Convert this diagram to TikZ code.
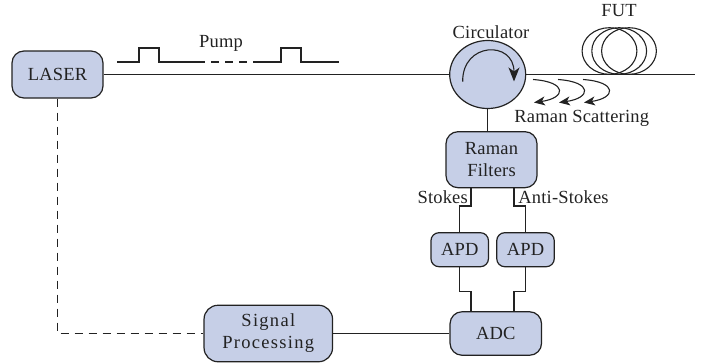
\documentclass[tikz,border=0pt]{standalone}
\usepackage{fontspec}
\setmainfont[LetterSpace=1]{Liberation Serif}
\newfontfamily\widefont[LetterSpace=7]{Liberation Serif}
\usetikzlibrary{shapes.geometric,arrows.meta}
\definecolor{boxfill}{HTML}{C6CFE7}
\definecolor{ink}{HTML}{222222}
\tikzset{
  x=1pt,y=-1pt,
  base/.style={draw=ink,line width=1.2pt,fill=boxfill,inner sep=0pt,align=center,text=ink,font=\fontsize{18.5}{22}\selectfont},
  bigbox/.style={base,rectangle,rounded corners=12pt},
  apdbox/.style={base,rectangle,rounded corners=8pt,minimum width=57.5pt,minimum height=34pt},
  lab/.style={text=ink,inner sep=0pt,font=\fontsize{18.5}{20}\selectfont},
  wire/.style={draw=ink,line width=1.2pt},
  thin wire/.style={draw=ink,line width=1.1pt},
  dash wire/.style={wire,dash pattern=on 8pt off 6pt},
  scatter/.style={draw=ink,line width=1.1pt,-{Stealth[length=11pt,width=9pt,inset=3pt]}},
}
\begin{document}
\begin{tikzpicture}
\useasboundingbox (0,0) rectangle (710,364);
% boxes
\node[bigbox,minimum width=91pt,minimum height=47pt] (laser) at (57.5,74.5) {LASER};
\node[base,ellipse,minimum width=76pt,minimum height=68pt] (cir) at (487.7,74.5) {};
\node[bigbox,minimum width=91pt,minimum height=56pt] (filters) at (491.5,159.7) {Raman\\Filters};
\node[apdbox] (apdl) at (459.7,249.7) {APD};
\node[apdbox] (apdr) at (525.5,249.7) {APD};
\node[bigbox,minimum width=91.5pt,minimum height=43.5pt] (adc) at (495.8,333.5) {ADC};
\node[bigbox,minimum width=128.5pt,minimum height=56.5pt,rounded corners=14pt] (sig) at (268.3,333.5) {\widefont Signal\\\widefont Processing};
% helper coordinates
\coordinate (end) at (695,74.5);
\coordinate (sk) at (471,206);
\coordinate (ak) at (514,206);
\coordinate (sb) at (471,291.7);
\coordinate (ab) at (514,291.7);
\coordinate (corner) at (laser.south |- sig.west);
% coils
\foreach \c/\n in {609.5/a,619.2/b,629/c}
  \draw[thin wire] (\c,51) ellipse [x radius=27.4,y radius=23.3];
% connectors
\draw[wire] (laser.east) -- (cir.west);
\draw[wire] (cir.east) -- (end);
\draw[wire] (cir.south) -- (cir.south |- filters.north);
\draw[wire] (filters.south -| sk) -- (sk) -- (sk -| apdl.north) -- (apdl.north);
\draw[wire] (filters.south -| ak) -- (ak) -- (ak -| apdr.north) -- (apdr.north);
\draw[wire] (apdl.south) -- (apdl.south |- sb) -- (sb) -- (sb |- adc.north);
\draw[wire] (apdr.south) -- (apdr.south |- ab) -- (ab) -- (ab |- adc.north);
\draw[wire] (sig.east) -- (adc.west);
\draw[dash wire] (laser.south) -- (corner) -- (sig.west);
% pump pulses
\coordinate (p0) at (117,62);
\coordinate (p1) at (197,62);
\coordinate (p2) at (257,62);
\coordinate (p3) at (339,62);
\draw[thin wire] (p0) -- (139,62) -- (139,48) -- (159,48) -- (159,62) -- (p1);
\draw[thin wire,dash pattern=on 8pt off 6pt] (p1) -- (p2);
\draw[thin wire] (p2) -- (281,62) -- (281,48) -- (301,48) -- (301,62) -- (p3);
% circulator arrow
\draw[draw=ink,line width=1.1pt,-{Stealth[length=14pt,width=11pt,inset=4pt]}] (462.7,81.7) .. controls (462,42) and (514,40) .. (514,81.5);
% scattering arrows
\foreach \d in {0,25,50}
  \draw[scatter] (533+\d,79.5) .. controls (568+\d,82) and (566+\d,98) .. (534+\d,102.5);
% labels
\node[lab] (pump) at (221,43) {Pump};
\node[lab] (circ) at (491,32) {Circulator};
\node[lab] (fut) at (619,11) {FUT};
\node[lab] (rs) at (581.7,118) {Raman Scattering};
\node[lab] (st) at (442.7,196.7) {Stokes};
\node[lab] (as) at (563.5,196.7) {Anti-Stokes};
\end{tikzpicture}
\end{document}
